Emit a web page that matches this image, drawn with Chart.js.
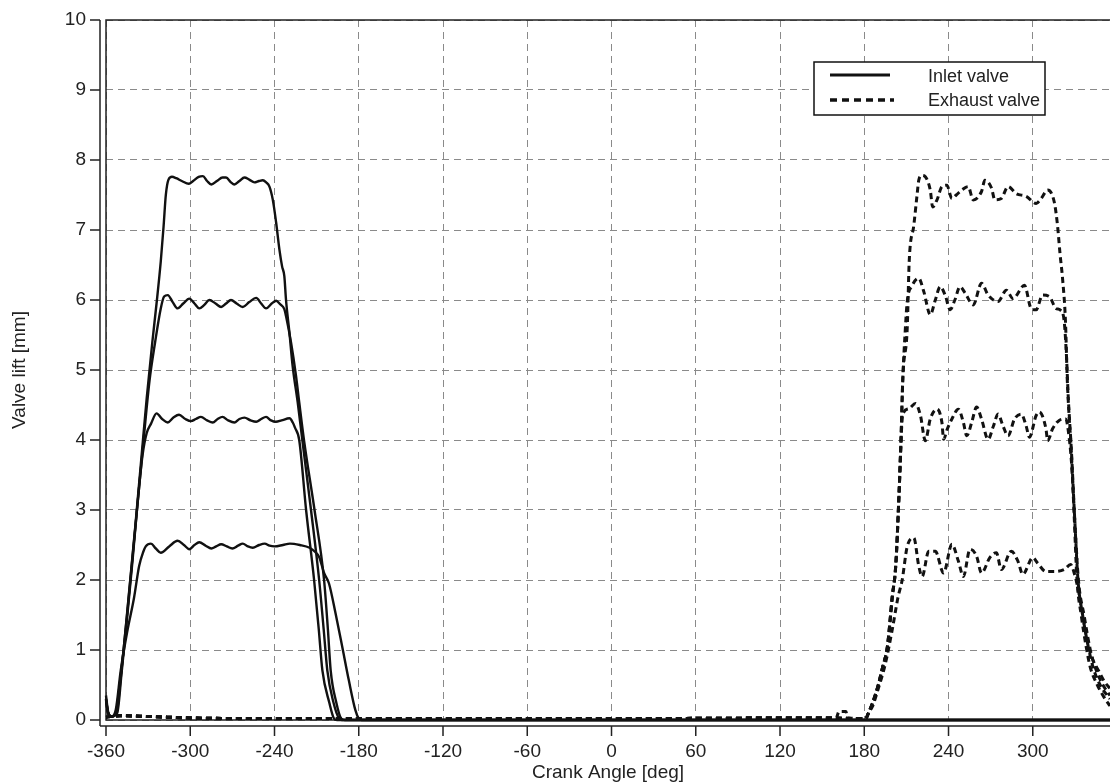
<!DOCTYPE html>
<html>
<head>
<meta charset="utf-8">
<script src="https://cdn.jsdelivr.net/npm/chart.js@4.4.1/dist/chart.umd.min.js"></script>
<style>
  html, body { margin: 0; padding: 0; background: #fff; }
  #wrap { width: 1110px; height: 782px; }
</style>
</head>
<body>
<div id="wrap"><canvas id="c" width="1110" height="782"></canvas></div>
<script>
// ---------------- data (crank angle [deg], valve lift [mm]) ----------------
const xTicks = [-360, -300, -240, -180, -120, -60, 0, 60, 120, 180, 240, 300];
const yTicks = [0, 1, 2, 3, 4, 5, 6, 7, 8, 9, 10];
const legendLabels = ['Inlet valve', 'Exhaust valve'];

const inletHigh = [[-360,0.35],[-358.5,0.12],[-356,0.05],[-353,0.1],[-350,0.55],[-347,1.1],[-343,1.95],[-339,2.8],[-335,3.7],[-331,4.6],[-327,5.4],[-324,5.95],[-321,6.55],[-319,7.05],[-317.4,7.5],[-315.5,7.72],[-313,7.76],[-310,7.74],[-306,7.7],[-301,7.66],[-298,7.7],[-294,7.76],[-291,7.77],[-288,7.7],[-285,7.65],[-281,7.7],[-277,7.75],[-274.5,7.75],[-271,7.68],[-268.6,7.65],[-265,7.7],[-261.4,7.75],[-258,7.72],[-254.3,7.68],[-251,7.7],[-248.3,7.71],[-246,7.68],[-243.6,7.62],[-241.2,7.43],[-238.8,7.1],[-236.5,6.72],[-234.6,6.48],[-233,6.34],[-231.8,6.0],[-229.4,5.54],[-227.1,5.06],[-223.5,4.54],[-220,3.97],[-214,3.0],[-208.2,2.0],[-205,1.3],[-202.4,0.71],[-198,0.25],[-194,0.02],[-192,0],[355,0]];
const inletMid = [[-360,0.3],[-358.5,0.1],[-356,0.05],[-352.5,0.1],[-349.5,0.6],[-345,1.5],[-341,2.35],[-337,3.2],[-333,4.05],[-329,4.85],[-325,5.4],[-321,5.88],[-318.6,6.05],[-316,6.07],[-312.5,5.97],[-309,5.88],[-305,5.95],[-300.7,6.02],[-297,5.95],[-293.6,5.88],[-290,5.93],[-286.4,6.0],[-282,5.95],[-278,5.9],[-274.5,5.95],[-271,6.0],[-267,5.95],[-262.6,5.9],[-258,5.97],[-253,6.03],[-249.5,5.95],[-246,5.88],[-242,5.95],[-238.8,5.99],[-236,5.94],[-233,5.87],[-231.8,5.77],[-228.2,5.39],[-224.7,4.92],[-222.4,4.54],[-218.8,3.97],[-211.5,3.0],[-204.7,2.0],[-202,1.3],[-200,0.71],[-196,0.25],[-192.5,0.02],[-190,0],[355,0]];
const inletLow = [[-360,0.3],[-358.5,0.1],[-356,0.05],[-352,0.1],[-349,0.65],[-345,1.45],[-341,2.3],[-337.5,3.1],[-334,3.78],[-331,4.1],[-328,4.23],[-324,4.38],[-320,4.3],[-316,4.25],[-312,4.32],[-308,4.36],[-303.5,4.3],[-299.5,4.27],[-296,4.3],[-292.4,4.33],[-288,4.28],[-284,4.25],[-280.5,4.3],[-277,4.33],[-273,4.28],[-268.6,4.25],[-265,4.3],[-261.4,4.32],[-257,4.28],[-253,4.26],[-249.5,4.3],[-246,4.33],[-242.5,4.28],[-239,4.26],[-235,4.28],[-229.3,4.31],[-227,4.25],[-225.5,4.18],[-222.4,4.0],[-217.5,3.0],[-211.8,2.0],[-208.5,1.3],[-205.9,0.71],[-201,0.25],[-197.6,0.02],[-195.5,0],[355,0]];
const inletMin = [[-360,0.28],[-358.5,0.1],[-356,0.05],[-353,0.15],[-349.5,0.71],[-345,1.25],[-340,1.75],[-336.4,2.2],[-333.5,2.4],[-331.7,2.48],[-328,2.52],[-324.5,2.45],[-321,2.39],[-315,2.48],[-309,2.56],[-304.5,2.5],[-300.7,2.44],[-297,2.5],[-293.6,2.54],[-289,2.49],[-285,2.45],[-281.5,2.48],[-278,2.51],[-274,2.48],[-270,2.45],[-266,2.49],[-262.6,2.52],[-259,2.48],[-255.5,2.46],[-251,2.5],[-247,2.52],[-243.5,2.49],[-240,2.48],[-234,2.5],[-229,2.52],[-222,2.5],[-215,2.46],[-211,2.4],[-208.2,2.33],[-204.7,2.1],[-201.2,1.95],[-196.5,1.52],[-191.8,1.05],[-187.1,0.57],[-182.4,0.14],[-180,0.02],[-178,0],[355,0]];

const exhaustHigh = [[-360,0.04],[-350,0.06],[-330,0.05],[-300,0.03],[-250,0.02],[0,0.02],[150,0.03],[160,0.03],[162,0.12],[167,0.12],[168,0.03],[181,0.02],[183,0.1],[186,0.25],[190,0.5],[193,0.75],[196.5,1.05],[200,1.77],[202.4,2.2],[204.7,3.2],[206,3.9],[207.5,4.9],[210.6,5.6],[212,6.55],[215.3,7.07],[217.6,7.5],[218.8,7.71],[221,7.78],[223.5,7.76],[227,7.57],[228.7,7.33],[231.8,7.43],[235.3,7.62],[238.8,7.64],[242.4,7.45],[245.5,7.5],[249.4,7.57],[254,7.62],[257.6,7.43],[263.5,7.55],[265.9,7.71],[270.6,7.6],[273,7.43],[277.6,7.45],[282.4,7.62],[288.2,7.52],[295.3,7.48],[302.4,7.38],[306,7.45],[310.6,7.57],[315.3,7.4],[317.6,7.07],[319.5,6.64],[321.2,6.31],[323.3,5.69],[324.5,4.9],[326,4.3],[327.3,3.9],[329.4,2.96],[331.5,2.0],[334.5,1.5],[338,1.05],[341,0.75],[346,0.5],[350,0.35],[355,0.2]];
const exhaustMid = [[-360,0.04],[-350,0.06],[-330,0.05],[-300,0.03],[-250,0.02],[0,0.02],[150,0.03],[181,0.02],[183,0.1],[186,0.25],[190,0.5],[193,0.75],[196.5,1.05],[200,1.77],[202.4,2.2],[204.7,3.2],[206,3.9],[207.5,4.9],[209,5.5],[210.6,5.98],[214,6.2],[218.8,6.31],[222.4,6.12],[227,5.79],[230.6,6.0],[234.1,6.19],[237.6,6.07],[241.2,5.86],[244.5,6.0],[248.2,6.19],[251.8,6.1],[257.6,5.93],[263.5,6.24],[268.2,6.07],[275.3,5.98],[281.2,6.14],[285.9,6.02],[294.1,6.21],[298.8,5.88],[302.4,5.86],[307,6.07],[311.8,6.05],[316.5,5.88],[320,5.85],[322.4,5.69],[324,5.2],[325.3,4.6],[327.5,3.85],[329.8,2.9],[332.2,2.0],[335.5,1.5],[339.5,1.05],[343,0.75],[348,0.5],[355,0.3]];
const exhaustLow = [[-360,0.04],[-350,0.06],[-330,0.05],[-300,0.03],[-250,0.02],[0,0.02],[150,0.03],[181,0.02],[183,0.1],[186,0.25],[190,0.5],[193,0.75],[196.5,1.05],[200,1.77],[202.4,2.2],[204.7,3.2],[206,3.9],[207,4.3],[208.2,4.4],[212,4.45],[216.5,4.52],[220,4.35],[223.5,3.99],[227,4.3],[231.8,4.44],[235.3,4.25],[236.5,4.01],[239,4.15],[242.4,4.3],[247,4.44],[250.6,4.25],[253,4.06],[256.5,4.25],[260,4.47],[263.5,4.3],[268.2,4.01],[272,4.2],[275.3,4.37],[278.8,4.2],[282.4,4.06],[287,4.3],[291.8,4.37],[295.3,4.2],[297.6,4.04],[302.4,4.35],[304.7,4.4],[309.4,4.16],[310.6,3.99],[314.1,4.16],[318.8,4.28],[323.5,4.3],[325.5,4.1],[327.5,3.7],[329.8,2.9],[332.5,2.0],[336.5,1.5],[341,1.0],[345,0.72],[350,0.5],[355,0.35]];
const exhaustMin = [[-360,0.04],[-350,0.06],[-330,0.05],[-300,0.03],[-250,0.02],[0,0.02],[150,0.03],[181,0.02],[183,0.1],[186,0.2],[190,0.45],[195,0.8],[200,1.3],[204,1.75],[207,2.0],[210.6,2.48],[215.3,2.6],[218.8,2.2],[221.2,2.05],[225.9,2.41],[230.6,2.41],[236.5,2.1],[242.4,2.51],[247,2.27],[250.6,2.05],[255.3,2.44],[260,2.34],[263.5,2.1],[269.4,2.32],[274.1,2.39],[277.6,2.15],[284.7,2.41],[289.4,2.27],[292.9,2.08],[300,2.32],[303.5,2.24],[309.4,2.12],[315.3,2.12],[322.4,2.15],[327,2.22],[329.5,2.1],[332.5,1.85],[335.5,1.5],[339,1.1],[343,0.85],[347,0.7],[351,0.55],[355,0.45]];

// ---------------- chart ----------------
const FONT = "'Liberation Sans', Arial, Helvetica, sans-serif";
const toPts = arr => arr.map(p => ({x: p[0], y: p[1]}));

const inletStyle = { borderColor: '#111', borderWidth: 2.4, pointRadius: 0, fill: false, cubicInterpolationMode: 'monotone' };
const exhaustStyle = { borderColor: '#111', borderWidth: 3, borderDash: [6, 4], pointRadius: 0, fill: false, cubicInterpolationMode: 'monotone' };

const datasets = [
  Object.assign({ label: legendLabels[0], data: toPts(inletHigh) }, inletStyle),
  Object.assign({ label: legendLabels[0], data: toPts(inletMid) }, inletStyle),
  Object.assign({ label: legendLabels[0], data: toPts(inletLow) }, inletStyle),
  Object.assign({ label: legendLabels[0], data: toPts(inletMin) }, inletStyle),
  Object.assign({ label: legendLabels[1], data: toPts(exhaustHigh) }, exhaustStyle),
  Object.assign({ label: legendLabels[1], data: toPts(exhaustMid) }, exhaustStyle),
  Object.assign({ label: legendLabels[1], data: toPts(exhaustLow) }, exhaustStyle),
  Object.assign({ label: legendLabels[1], data: toPts(exhaustMin) }, exhaustStyle)
];

// frame + offset axes with outward ticks
const framePlugin = {
  id: 'frame',
  beforeDatasetsDraw(chart) {
    const {ctx, chartArea: a, scales} = chart;
    const xs = scales.x, ys = scales.y;
    ctx.save();
    ctx.strokeStyle = '#222';
    ctx.lineWidth = 1.5;
    ctx.setLineDash([]);
    ctx.beginPath();
    // frame
    ctx.moveTo(a.right + 2, a.top); ctx.lineTo(a.left, a.top); ctx.lineTo(a.left, a.bottom); ctx.lineTo(a.right + 2, a.bottom);
    // offset y axis
    const ax = a.left - 6;
    ctx.moveTo(ax, a.top); ctx.lineTo(ax, a.bottom + 6);
    yTicks.forEach(v => { const p = ys.getPixelForValue(v); ctx.moveTo(ax - 10, p); ctx.lineTo(ax, p); });
    // offset x axis
    const ay = a.bottom + 6;
    ctx.moveTo(a.left - 6, ay); ctx.lineTo(a.right + 2, ay);
    xTicks.forEach(v => { const p = xs.getPixelForValue(v); ctx.moveTo(p, ay); ctx.lineTo(p, ay + 10); });
    ctx.stroke();
    ctx.restore();
  }
};

// boxed legend inside the plot
const legendPlugin = {
  id: 'boxLegend',
  afterDraw(chart) {
    const {ctx} = chart;
    const L = 814, T = 62, W = 231, H = 53;
    ctx.save();
    ctx.fillStyle = '#fff';
    ctx.fillRect(L, T, W, H);
    ctx.strokeStyle = '#111';
    ctx.lineWidth = 1.5;
    ctx.setLineDash([]);
    ctx.strokeRect(L, T, W, H);
    // inlet sample
    ctx.lineWidth = 3;
    ctx.beginPath(); ctx.moveTo(830, 75); ctx.lineTo(890, 75); ctx.stroke();
    // exhaust sample
    ctx.lineWidth = 3.5;
    ctx.setLineDash([7, 5]);
    ctx.beginPath(); ctx.moveTo(830, 100); ctx.lineTo(894, 100); ctx.stroke();
    ctx.setLineDash([]);
    ctx.fillStyle = '#222';
    ctx.font = '18px ' + FONT;
    ctx.textBaseline = 'middle';
    ctx.textAlign = 'left';
    ctx.fillText(legendLabels[0], 928, 77);
    ctx.fillText(legendLabels[1], 928, 101);
    ctx.restore();
  }
};

new Chart(document.getElementById('c'), {
  type: 'line',
  data: { datasets },
  plugins: [framePlugin, legendPlugin],
  options: {
    responsive: false,
    animation: false,
    devicePixelRatio: 1,
    layout: { padding: { top: 20, right: 0, left: 0, bottom: 0 } },
    plugins: { legend: { display: false }, tooltip: { enabled: false } },
    elements: { line: { tension: 0.3 } },
    datasets: { line: { clip: false } },
    scales: {
      x: {
        type: 'linear',
        min: -360,
        max: 355,
        afterBuildTicks: s => { s.ticks = xTicks.map(v => ({ value: v })); },
        afterFit: s => { s.height = 62; s.paddingLeft = 0; s.paddingRight = 0; },
        grid: { color: '#8a8a8a', lineWidth: 1, drawTicks: false },
        border: { display: false, dash: [7, 5] },
        ticks: { color: '#222', font: { family: FONT, size: 19 }, padding: 20, maxRotation: 0, autoSkip: false },
        title: { display: true, text: 'Crank Angle [deg]', color: '#222', font: { family: FONT, size: 19, lineHeight: 1 }, padding: { top: 0, bottom: 0 } }
      },
      y: {
        type: 'linear',
        min: 0,
        max: 10,
        afterBuildTicks: s => { s.ticks = yTicks.map(v => ({ value: v })); },
        afterFit: s => { s.width = 106; s.paddingTop = 0; s.paddingBottom = 0; },
        grid: { color: '#8a8a8a', lineWidth: 1, drawTicks: false },
        border: { display: false, dash: [7, 5] },
        ticks: { color: '#222', font: { family: FONT, size: 19 }, padding: 20 },
        title: { display: true, text: 'Valve lift [mm]', color: '#222', font: { family: FONT, size: 19, lineHeight: 1 }, padding: { top: 10, bottom: 0 } }
      }
    }
  }
});
</script>
</body>
</html>
